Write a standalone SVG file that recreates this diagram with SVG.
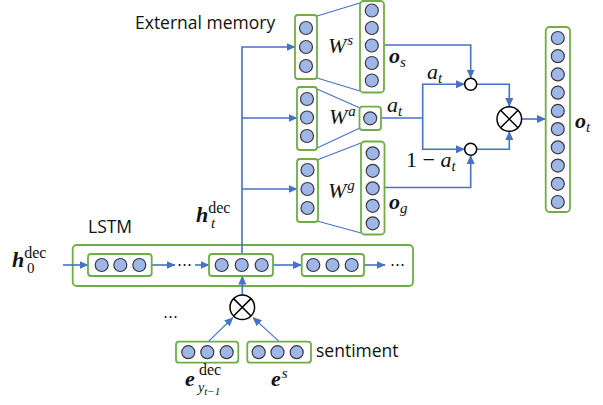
<svg xmlns="http://www.w3.org/2000/svg" width="603" height="405" viewBox="0 0 603 405">
<style>
.box{fill:#fff;stroke:#70ad47;stroke-width:1.8}
.outer{fill:none;stroke:#70ad47;stroke-width:1.8}
.c{fill:#9fb6e8;stroke:#3a3a3a;stroke-width:1.2}
.ln{fill:none;stroke:#4472c4;stroke-width:1.6}
.thin{fill:none;stroke:#4472c4;stroke-width:1.1}
.ar{marker-end:url(#ah)}
.op{fill:#fff;stroke:#000;stroke-width:1.5}
.sans{font-family:"Open Sans","Noto Sans",sans-serif;font-size:17.5px;fill:#111}
.m{font-family:"Liberation Serif","DejaVu Serif",serif;font-size:22px;font-style:italic;fill:#111}
.mb{font-family:"Liberation Serif","DejaVu Serif",serif;font-size:22px;font-style:italic;font-weight:bold;fill:#111}
.up{font-family:"Liberation Serif","DejaVu Serif",serif;font-style:normal;font-weight:normal}
.dots{font-family:"DejaVu Sans",sans-serif;font-size:15px;fill:#111}
</style>
<defs>
<marker id="ah" markerUnits="userSpaceOnUse" markerWidth="9" markerHeight="8" refX="8.5" refY="4" orient="auto">
<path d="M0,0 L9,4 L0,8 z" fill="#4472c4"/>
</marker>
</defs>

<g id="lstm">
<rect class="outer" x="72.7" y="245" width="340.3" height="41" rx="4"/>
<text class="sans" x="88" y="233">LSTM</text>
</g>

<g id="connectors">
<line class="thin" x1="317" y1="16" x2="360" y2="3"/>
<line class="thin" x1="317" y1="78" x2="360" y2="91"/>
<line class="thin" x1="317" y1="89" x2="360" y2="108"/>
<line class="thin" x1="317" y1="148" x2="360" y2="128"/>
<line class="thin" x1="317" y1="160" x2="361" y2="143"/>
<line class="thin" x1="317" y1="221" x2="361" y2="233"/>
<polyline class="ln ar" points="242,254 242,47 295,47"/>
<line class="ln ar" x1="242" y1="118" x2="297" y2="118"/>
<line class="ln ar" x1="242" y1="189" x2="297" y2="189"/>
<polyline class="ln ar" points="384,45 470.7,45 470.7,78"/>
<polyline class="ln" points="381,118 422.7,118"/>
<polyline class="ln ar" points="422.7,118 422.7,84.3 464.5,84.3"/>
<polyline class="ln ar" points="422.7,118 422.7,149.3 464.5,149.3"/>
<polyline class="ln ar" points="384,187.5 470.7,187.5 470.7,155.5"/>
<polyline class="ln ar" points="476.9,84.3 509.3,84.3 509.3,106.5"/>
<polyline class="ln ar" points="476.9,149.3 509.3,149.3 509.3,131.5"/>
<line class="ln ar" x1="521.6" y1="119" x2="545.5" y2="119"/>
<line class="ln ar" x1="63" y1="265" x2="88" y2="265"/>
<line class="ln ar" x1="152" y1="265" x2="175" y2="265"/>
<line class="ln ar" x1="195" y1="265" x2="209" y2="265"/>
<line class="ln ar" x1="273" y1="265" x2="301.5" y2="265"/>
<line class="ln ar" x1="364" y1="265" x2="385" y2="265"/>
<line class="ln ar" x1="242.3" y1="295" x2="242.3" y2="276"/>
<line class="thin ar" x1="208.3" y1="341.7" x2="233" y2="317.5"/>
<line class="thin ar" x1="279.3" y1="341.7" x2="253" y2="317.5"/>
</g>

<g id="h0-label">
<text class="mb" x="12" y="267">h<tspan class="up" font-size="16" dy="-9">dec</tspan><tspan class="up" font-size="15" x="27" dy="15">0</tspan></text>
</g>

<g id="cell1">
<rect class="box" x="88" y="254" width="63.7" height="22" rx="3"/>
<circle class="c" cx="101.7" cy="265" r="6.5"/><circle class="c" cx="120.3" cy="265" r="6.5"/><circle class="c" cx="139.3" cy="265" r="6.5"/>
</g>
<text class="dots" x="177" y="266">…</text>
<g id="cell2">
<rect class="box" x="209" y="254" width="64" height="22" rx="3"/>
<circle class="c" cx="221.7" cy="265" r="6.5"/><circle class="c" cx="241.7" cy="265" r="6.5"/><circle class="c" cx="261.7" cy="265" r="6.5"/>
</g>
<g id="cell3">
<rect class="box" x="301.7" y="254" width="62.3" height="22" rx="3"/>
<circle class="c" cx="313.3" cy="265" r="6.5"/><circle class="c" cx="332.5" cy="265" r="6.5"/><circle class="c" cx="351.7" cy="265" r="6.5"/>
</g>
<text class="dots" x="390" y="266">…</text>

<g id="ht-label">
<text class="mb" x="196" y="222">h<tspan class="up" font-size="16" dy="-9">dec</tspan><tspan font-size="15" x="211" dy="15" font-weight="normal">t</tspan></text>
</g>

<g id="ext-memory">
<text class="sans" x="135" y="29">External memory</text>
</g>

<g id="mem-s">
<rect class="box" x="295" y="15" width="22" height="64" rx="3"/>
<circle class="c" cx="306" cy="28" r="6.5"/><circle class="c" cx="306" cy="47" r="6.5"/><circle class="c" cx="306" cy="66" r="6.5"/>
</g>
<g id="mem-a">
<rect class="box" x="297" y="87" width="20" height="63" rx="3"/>
<circle class="c" cx="307" cy="99" r="6.5"/><circle class="c" cx="307" cy="117.5" r="6.5"/><circle class="c" cx="307" cy="136" r="6.5"/>
</g>
<g id="mem-g">
<rect class="box" x="297" y="159" width="21" height="63" rx="3"/>
<circle class="c" cx="307.5" cy="170" r="6.5"/><circle class="c" cx="307.5" cy="189" r="6.5"/><circle class="c" cx="307.5" cy="208" r="6.5"/>
</g>

<g id="os">
<rect class="box" x="360" y="1" width="24" height="91.5" rx="3.5"/>
<circle class="c" cx="371.8" cy="10.5" r="6.5"/><circle class="c" cx="371.8" cy="28" r="6.5"/><circle class="c" cx="371.8" cy="45.5" r="6.5"/><circle class="c" cx="371.8" cy="63" r="6.5"/><circle class="c" cx="371.8" cy="80.5" r="6.5"/>
<text class="m" x="328" y="53">W<tspan font-size="15" dx="1" dy="-8">s</tspan></text>
<text class="mb" x="389" y="63">o<tspan font-size="15" font-weight="normal" dy="4">s</tspan></text>
</g>
<g id="at">
<rect class="box" x="359.5" y="106.7" width="21.5" height="23.3" rx="3"/>
<circle class="c" cx="370.2" cy="118.3" r="6.5"/>
<text class="m" x="329" y="124">W<tspan font-size="15" dx="1" dy="-8">a</tspan></text>
<text class="m" x="387" y="112">a<tspan font-size="15" dy="4">t</tspan></text>
</g>
<g id="og">
<rect class="box" x="361" y="141.5" width="23.5" height="93" rx="3.5"/>
<circle class="c" cx="372.7" cy="153.3" r="6.5"/><circle class="c" cx="372.7" cy="170.8" r="6.5"/><circle class="c" cx="372.7" cy="188.3" r="6.5"/><circle class="c" cx="372.7" cy="205.8" r="6.5"/><circle class="c" cx="372.7" cy="223.3" r="6.5"/>
<text class="m" x="328" y="198">W<tspan font-size="15" dx="1" dy="-8">g</tspan></text>
<text class="mb" x="389" y="209">o<tspan font-size="15" font-weight="normal" dy="4">g</tspan></text>
</g>

<g id="gate-s">
<circle class="op" cx="470.7" cy="84.3" r="6"/>
<text class="m" x="427" y="79">a<tspan font-size="15" dy="4">t</tspan></text>
</g>
<g id="gate-g">
<circle class="op" cx="470.7" cy="149.3" r="6"/>
<text class="m" x="406" y="167"><tspan font-style="normal">1 − </tspan>a<tspan font-size="15" dy="4">t</tspan></text>
</g>
<g id="otimes-out">
<circle class="op" cx="509.3" cy="119" r="12.3"/>
<path d="M500.6,110.3 L518,127.7 M518,110.3 L500.6,127.7" stroke="#000" stroke-width="1.5"/>
</g>

<g id="ot">
<rect class="box" x="545.7" y="27" width="24.3" height="185" rx="4"/>
<circle class="c" cx="557.8" cy="38" r="6.5"/><circle class="c" cx="557.8" cy="56.2" r="6.5"/><circle class="c" cx="557.8" cy="74.4" r="6.5"/><circle class="c" cx="557.8" cy="92.7" r="6.5"/><circle class="c" cx="557.8" cy="110.9" r="6.5"/><circle class="c" cx="557.8" cy="129.1" r="6.5"/><circle class="c" cx="557.8" cy="147.3" r="6.5"/><circle class="c" cx="557.8" cy="165.6" r="6.5"/><circle class="c" cx="557.8" cy="183.8" r="6.5"/><circle class="c" cx="557.8" cy="202" r="6.5"/>
<text class="mb" x="575" y="128">o<tspan font-size="15" font-weight="normal" dy="4">t</tspan></text>
</g>

<g id="otimes-in">
<circle class="op" cx="242.3" cy="307.3" r="12.3"/>
<path d="M233.6,298.6 L251,316 M251,298.6 L233.6,316" stroke="#000" stroke-width="1.5"/>
</g>
<text class="dots" x="163" y="318">…</text>

<g id="e-dec">
<rect class="box" x="176" y="341.7" width="62.3" height="21" rx="3"/>
<circle class="c" cx="188.3" cy="352.2" r="6.5"/><circle class="c" cx="207.3" cy="352.2" r="6.5"/><circle class="c" cx="226.7" cy="352.2" r="6.5"/>
<text class="mb" x="185" y="386">e<tspan class="up" font-size="16" x="199" y="375">dec</tspan><tspan font-size="14" font-weight="normal" x="198" y="392">y</tspan><tspan font-size="11" font-weight="normal" y="395">t−1</tspan></text>
</g>
<g id="e-s">
<rect class="box" x="247.3" y="341.7" width="63.7" height="21" rx="3"/>
<circle class="c" cx="258.7" cy="352.2" r="6.5"/><circle class="c" cx="277.5" cy="352.2" r="6.5"/><circle class="c" cx="296.7" cy="352.2" r="6.5"/>
<text class="mb" x="271" y="386">e<tspan font-size="15" font-weight="normal" dx="1" dy="-8">s</tspan></text>
<text class="sans" x="316" y="357">sentiment</text>
</g>
</svg>
